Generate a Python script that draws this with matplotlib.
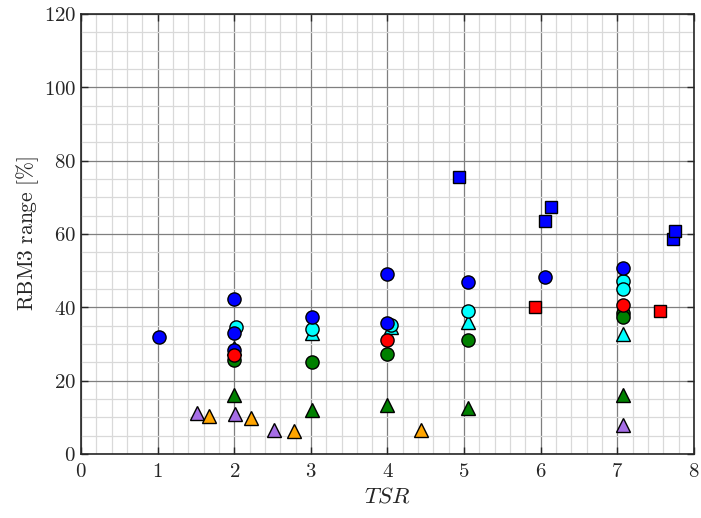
import matplotlib
matplotlib.use('Agg')
import matplotlib.pyplot as plt
from matplotlib.ticker import MultipleLocator, FuncFormatter

plt.rcParams['mathtext.fontset'] = 'cm'
plt.rcParams['font.family'] = 'serif'

# TSR / RBM3 range data, grouped by marker style
cyan_tri_x = [2.0, 3.02, 4.04, 5.05, 7.07]
cyan_tri_y = [29.0, 33.0, 34.5, 35.9, 32.8]

cyan_circ_x = [2.02, 3.02, 4.04, 5.05, 7.07, 7.07]
cyan_circ_y = [34.5, 34.2, 35.2, 38.9, 47.2, 45.0]

blue_circ_x = [1.02, 2.0, 2.0, 2.0, 3.02, 4.0, 4.0, 5.05, 6.06, 7.07]
blue_circ_y = [32.0, 42.3, 33.0, 28.4, 37.3, 49.0, 35.6, 46.9, 48.4, 50.6]

green_circ_x = [2.0, 3.02, 4.0, 5.05, 7.07, 7.07]
green_circ_y = [25.7, 25.2, 27.3, 31.0, 38.4, 37.4]

red_circ_x = [2.0, 4.0, 7.07]
red_circ_y = [27.1, 31.2, 40.5]

green_tri_x = [2.0, 3.02, 4.0, 5.05, 7.07]
green_tri_y = [16.1, 12.0, 13.3, 12.5, 16.1]

purple_tri_x = [1.51, 2.01, 2.52, 7.07]
purple_tri_y = [11.2, 10.8, 6.6, 8.0]

orange_tri_x = [1.67, 2.22, 2.78, 4.44]
orange_tri_y = [10.4, 9.9, 6.3, 6.6]

blue_sq_x = [4.93, 6.05, 6.13, 7.73, 7.75]
blue_sq_y = [75.6, 63.5, 67.3, 58.5, 60.9]

red_sq_x = [5.93, 7.56]
red_sq_y = [40.1, 39.1]

fig = plt.figure(figsize=(7.01, 5.18), dpi=100)
ax = fig.add_axes([0.1155, 0.1236, 0.8745, 0.8494])

ms = 9.5
kw = dict(linestyle='none', markeredgecolor='k', markeredgewidth=1.0, zorder=3)
ax.plot(cyan_tri_x, cyan_tri_y, '^', color='#00ffff', markersize=ms, **kw)
ax.plot(cyan_circ_x, cyan_circ_y, 'o', color='#00ffff', markersize=ms, **kw)
ax.plot(blue_circ_x, blue_circ_y, 'o', color='#0000ff', markersize=ms, **kw)
ax.plot(green_circ_x, green_circ_y, 'o', color='#008000', markersize=ms, **kw)
ax.plot(red_circ_x, red_circ_y, 'o', color='#ff0000', markersize=ms, **kw)
ax.plot(green_tri_x, green_tri_y, '^', color='#008000', markersize=ms, **kw)
ax.plot(purple_tri_x, purple_tri_y, '^', color='#a66ee6', markersize=ms, **kw)
ax.plot(orange_tri_x, orange_tri_y, '^', color='#ffa500', markersize=ms, **kw)
ax.plot(blue_sq_x, blue_sq_y, 's', color='#0000ff', markersize=8, **kw)
ax.plot(red_sq_x, red_sq_y, 's', color='#ff0000', markersize=8, **kw)

ax.set_xlim(0, 8)
ax.set_ylim(0, 120)
ax.xaxis.set_major_locator(MultipleLocator(1))
ax.xaxis.set_minor_locator(MultipleLocator(0.2))
ax.yaxis.set_major_locator(MultipleLocator(20))
ax.yaxis.set_minor_locator(MultipleLocator(5))
fmt = FuncFormatter(lambda v, p: r'$%g$' % v)
ax.xaxis.set_major_formatter(fmt)
ax.yaxis.set_major_formatter(fmt)

ax.grid(which='major', color='#7f7f7f', linewidth=0.9)
ax.grid(which='minor', color='#d9d9d9', linewidth=0.9)
ax.set_axisbelow(True)

ax.tick_params(which='both', direction='in', top=True, right=True, labelsize=15, colors='#262626')
ax.tick_params(which='major', length=5, width=1)
ax.tick_params(axis='x', which='major', pad=6)
ax.tick_params(which='minor', length=0)
for s in ax.spines.values():
    s.set_color('#262626')
    s.set_linewidth(1.2)

ax.set_xlabel(r'$TSR$', fontsize=16.5, color='#262626', labelpad=3)
ax.set_ylabel(r'$\mathrm{RBM3\ range\ [\%]}$', fontsize=15.5, color='#262626', labelpad=2)

fig.savefig('out.png', dpi=100)
